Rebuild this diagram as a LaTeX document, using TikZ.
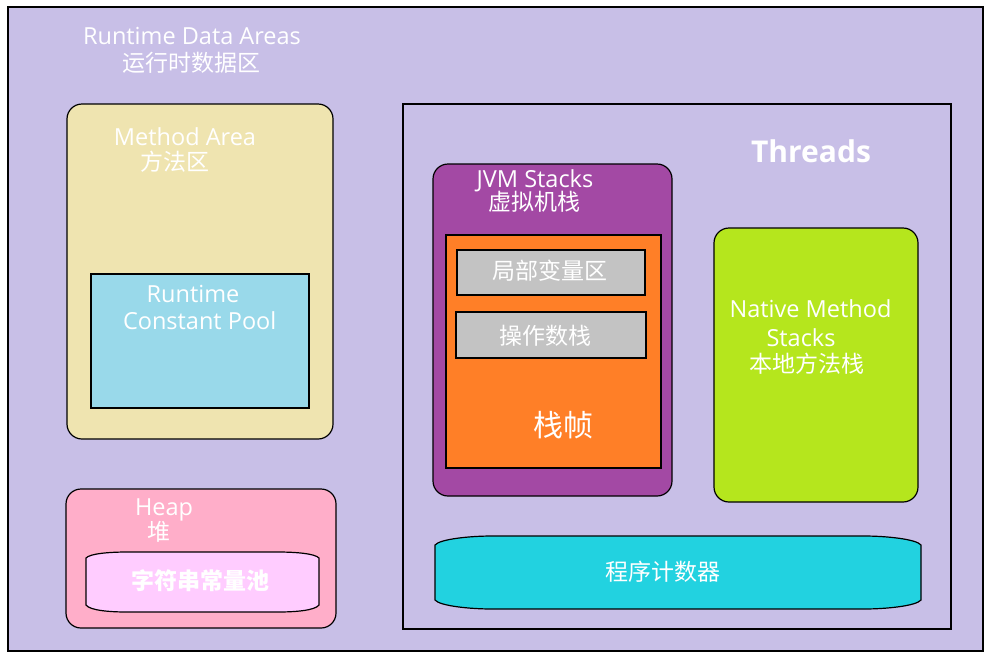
\documentclass[tikz,border=0pt]{standalone}
\usepackage{fontspec}
\setmainfont{Open Sans}
\newfontfamily\cjk{Noto Sans CJK SC}
\definecolor{lav}{HTML}{C8BFE7}
\definecolor{mayel}{HTML}{EFE4B0}
\definecolor{poolblue}{HTML}{99D9EA}
\definecolor{heappink}{HTML}{FFAEC9}
\definecolor{strpink}{HTML}{FFCCFF}
\definecolor{jvmpurple}{HTML}{A349A4}
\definecolor{frameorange}{HTML}{FF7F27}
\definecolor{boxgray}{HTML}{C3C3C3}
\definecolor{nativelime}{HTML}{B5E61D}
\definecolor{pccyan}{HTML}{22D2E0}
\newcommand\latf{\fontsize{23.5}{27}\selectfont}
\newcommand\zhf{\cjk\fontsize{23}{27}\selectfont}
\tikzset{
  shp/.style={draw=black, line width=1.2pt, inner sep=0pt, outer sep=0pt},
  rshp/.style={shp, rounded corners=15pt},
  lbl/.style={text=white, inner sep=0pt, anchor=base, font=\latf},
  zh/.style={text=white, inner sep=0pt, anchor=base, font=\zhf},
}
\begin{document}
\begin{tikzpicture}[x=1pt,y=-1pt]
\useasboundingbox (0,0) rectangle (992,662);
\fill[white] (0,0) rectangle (992,662);
% outer area
\node[shp, fill=lav, minimum width=975pt, minimum height=644pt] (outer) at (495.5,329) {};
\node[lbl] (rdaen) at (192,44) {Runtime Data Areas};
\node[zh] (rdazh) at (191,71.5) {运行时数据区};
% method area
\node[rshp, fill=mayel, minimum width=266pt, minimum height=335pt] (method) at (200,271.5) {};
\node[lbl] (maen) at (185,145) {Method Area};
\node[zh] (mazh) at (175,170.5) {方法区};
\node[shp, fill=poolblue, minimum width=218pt, minimum height=134pt] (pool) at (200,341) {};
\node[lbl] (pool1) at (193,302.7) {Runtime};
\node[lbl] (pool2) at (199.7,329.3) {Constant Pool};
% heap
\node[rshp, fill=heappink, minimum width=270pt, minimum height=139pt] (heap) at (201,558.5) {};
\node[lbl] (heapen) at (164,515) {Heap};
\node[zh] (heapzh) at (158.7,540.5) {堆};
\draw[line width=1.2pt, fill=strpink] (86,558) .. controls (90,553.5) and (110,552) .. (127,552) -- (278,552) .. controls (295,552) and (315,553.5) .. (319,558) -- (319,605) .. controls (315,610.5) and (295,612) .. (278,612) -- (127,612) .. controls (110,612) and (90,610.5) .. (86,605) -- cycle;
\node[zh, font=\zhf\bfseries] (strpool) at (200,589.5) {字符串常量池};
% threads
\node[shp, minimum width=548pt, minimum height=525pt] (threads) at (677,366.5) {};
\node[lbl, font=\fontsize{30}{33}\selectfont\bfseries] (thr) at (811,162) {Threads};
% JVM stacks
\node[rshp, fill=jvmpurple, minimum width=239pt, minimum height=332pt] (jvm) at (552.5,330) {};
\node[lbl] (jvmen) at (535,187) {JVM Stacks};
\node[zh] (jvmzh) at (534,210.5) {虚拟机栈};
\node[shp, fill=frameorange, minimum width=215pt, minimum height=233pt] (frame) at (553.5,351.5) {};
\node[shp, fill=boxgray, minimum width=188pt, minimum height=45pt] (lv) at (551,272.5) {};
\node[zh] (lvt) at (550,279) {局部变量区};
\node[shp, fill=boxgray, minimum width=190pt, minimum height=46pt] (ops) at (551,335) {};
\node[zh] (opst) at (545,344) {操作数栈};
\node[zh, font=\cjk\fontsize{30}{34}\selectfont] (framet) at (563,436.5) {栈帧};
% native method stacks
\node[rshp, fill=nativelime, minimum width=204pt, minimum height=274pt] (native) at (816,365) {};
\node[lbl] (nat1) at (810.5,317) {Native Method};
\node[lbl] (nat2) at (801,346.7) {Stacks};
\node[zh] (natzh) at (806.7,372.5) {本地方法栈};
% program counter
\draw[line width=1.2pt, fill=pccyan] (435,545) .. controls (440,539) and (470,536) .. (492,536) -- (864,536) .. controls (886,536) and (916,539) .. (921,545) -- (921,600) .. controls (916,606) and (886,609) .. (864,609) -- (492,609) .. controls (470,609) and (440,606) .. (435,600) -- cycle;
\node[zh] (pc) at (662.5,580.5) {程序计数器};
\end{tikzpicture}
\end{document}
